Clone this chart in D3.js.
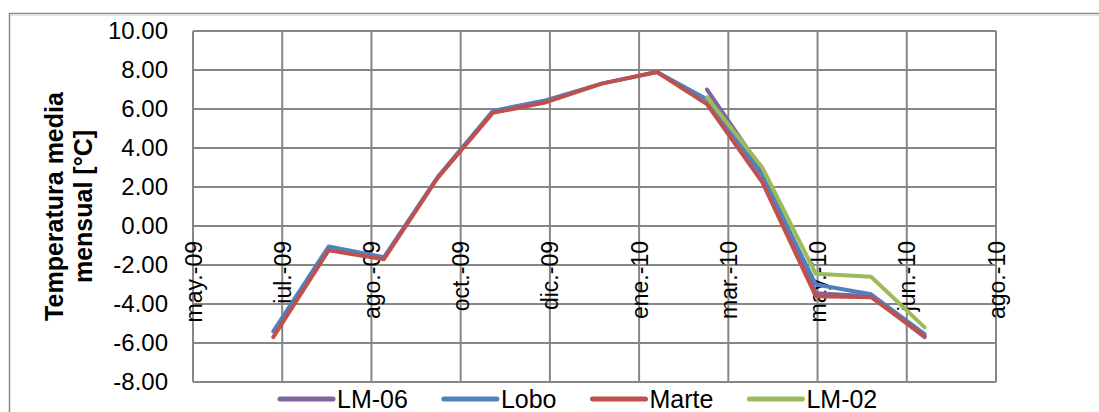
<!DOCTYPE html>
<html>
<head>
<meta charset="utf-8">
<script src="https://cdn.jsdelivr.net/npm/d3@7"></script>
<style>
body { margin:0; background:#fff; }
text { font-family: Arial, "Liberation Sans", sans-serif; fill:#000; }
</style>
</head>
<body>
<div id="plot" style="width:1099px;height:412px;"></div>
<script>
//data, monthly means
var months = ['2009-07-01','2009-08-01','2009-09-01','2009-10-01','2009-11-01','2009-12-01',
	'2010-01-01','2010-02-01','2010-03-01','2010-04-01','2010-05-01','2010-06-01','2010-07-01'];
var lm06  = [null,null,null,null,null,null,null,null, 7.0, 2.85,-3.45,-3.6,-5.7];
var lobo  = [-5.4,-1.05,-1.6, 2.5, 5.9, 6.45, 7.3, 7.9, 6.5, 2.6,-3.0,-3.5,-5.55];
var marte = [-5.7,-1.25,-1.7, 2.45,5.8, 6.35, 7.3, 7.9, 6.25,2.25,-3.6,-3.65,-5.65];
var lm02  = [null,null,null,null,null,null,null,null, 6.6, 3.0,-2.45,-2.6,-5.2];

var seriesNames = ['LM-06','Lobo','Marte','LM-02'];
var seriesColors = ['#8064A2','#4F81BD','#C0504D','#9BBB59'];

var tickDates = ['2009-05-17','2009-07-06','2009-08-25','2009-10-14','2009-12-03','2010-01-22',
	'2010-03-13','2010-05-02','2010-06-21','2010-08-10'];
var tickLabels = ['may.-09','jul.-09','ago.-09','oct.-09','dic.-09','ene.-10',
	'mar.-10','may.-10','jun.-10','ago.-10'];
var yTicks = [-8,-6,-4,-2,0,2,4,6,8,10];

var parse = d3.utcParse('%Y-%m-%d');

var W = 1099, H = 412;
var margin = {t:31,r:103,b:30,l:193};
var width = W-margin.l-margin.r,
	height = 382-margin.t;

var svg = d3.select('#plot')
	.append('svg')
	.attr('width',W)
	.attr('height',H);

//chart border
svg.append('rect')
	.attr('x',9.5).attr('y',13.5)
	.attr('width',W+20).attr('height',H+20)
	.style('fill','none')
	.style('stroke','#8a8a8a')
	.style('stroke-width',1.5);
svg.append('line')
	.attr('x1',11).attr('x2',W)
	.attr('y1',15.5).attr('y2',15.5)
	.style('stroke','#e4e4e4')
	.style('stroke-width',1);

var plot = svg.append('g')
	.attr('transform','translate('+margin.l+','+margin.t+')');

var x = d3.scaleUtc()
	.domain([parse(tickDates[0]), parse(tickDates[tickDates.length-1])])
	.range([0,width]);
var y = d3.scaleLinear().domain([-8,10]).range([height,0]);

//grid
plot.append('g')
	.selectAll('line.h')
	.data(yTicks)
	.enter().append('line')
	.attr('x1',0).attr('x2',width)
	.attr('y1',function(d){return y(d);})
	.attr('y2',function(d){return y(d);})
	.style('stroke','#868686').style('stroke-width',2);
plot.append('g')
	.selectAll('line.v')
	.data(tickDates)
	.enter().append('line')
	.attr('y1',0).attr('y2',height)
	.attr('x1',function(d){return x(parse(d));})
	.attr('x2',function(d){return x(parse(d));})
	.style('stroke','#868686').style('stroke-width',2);

//y axis labels (plain hyphen minus like the original)
var yAxis = plot.append('g')
	.call(d3.axisLeft(y).tickValues(yTicks).tickSize(0).tickPadding(25)
		.tickFormat(function(d){return d.toFixed(2);}));
yAxis.select('.domain').remove();
yAxis.selectAll('text')
	.style('font-size','24px')
	.style('font-family','Arial, "Liberation Sans", sans-serif');

//x axis labels, sitting under the zero line
var xAxis = plot.append('g')
	.attr('transform','translate(0,'+y(0)+')')
	.call(d3.axisBottom(x).tickValues(tickDates.map(parse)).tickSize(0)
		.tickFormat(function(d,i){return tickLabels[i];}));
xAxis.select('.domain').remove();
xAxis.selectAll('text')
	.attr('transform','rotate(-90)')
	.attr('x',-15).attr('y',0).attr('dy','0.35em')
	.style('text-anchor','end')
	.style('font-size','23px')
	.style('font-family','Arial, "Liberation Sans", sans-serif');

//lines
var allSeries = [lm06, lobo, marte, lm02];
var line = d3.line()
	.defined(function(d){return d.v !== null;})
	.x(function(d){return x(d.date);})
	.y(function(d){return y(d.v);});

allSeries.forEach(function(s,i){
	var pts = s.map(function(v,j){return {date:parse(months[j]), v:v};});
	plot.append('path')
		.datum(pts)
		.attr('d',line)
		.style('fill','none')
		.style('stroke',seriesColors[i])
		.style('stroke-width',4)
		.style('stroke-linejoin','round')
		.style('stroke-linecap','round');
});

//y title
var title = svg.append('text')
	.attr('transform','translate(63,'+(margin.t+height/2)+') rotate(-90)')
	.style('text-anchor','middle')
	.style('font-weight','bold')
	.style('font-size','25px');
title.append('tspan').attr('x',0).attr('y',0).text('Temperatura media');
title.append('tspan').attr('x',0).attr('y',29).text('mensual [°C]');

//legend
var legend = svg.append('g');
var lx = 280;
seriesNames.forEach(function(name,i){
	legend.append('line')
		.attr('x1',lx).attr('x2',lx+53)
		.attr('y1',399).attr('y2',399)
		.style('stroke',seriesColors[i])
		.style('stroke-width',5)
		.style('stroke-linecap','round');
	var t = legend.append('text')
		.attr('x',lx+57).attr('y',399).attr('dy','0.35em')
		.style('font-size','25px')
		.text(name);
	lx = lx + 57 + t.node().getComputedTextLength() + 36;
});
</script>
</body>
</html>
